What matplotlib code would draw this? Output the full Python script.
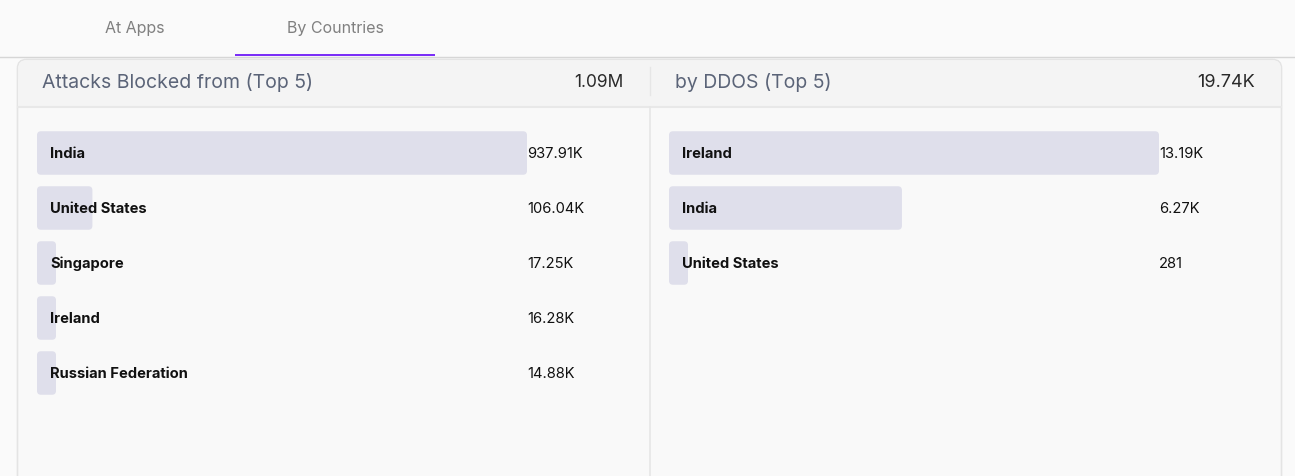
import matplotlib
matplotlib.use("Agg")
import matplotlib.pyplot as plt
from matplotlib.patches import FancyBboxPatch, Rectangle

plt.rcParams['font.family'] = ['Inter', 'DejaVu Sans']

# ---- data ----
tabs = ["At Apps", "By Countries"]
left_title = "Attacks Blocked from (Top 5)"
left_total = "1.09M"
left_countries = ["India", "United States", "Singapore", "Ireland", "Russian Federation"]
left_values = [937910, 106040, 17250, 16280, 14880]
left_labels = ["937.91K", "106.04K", "17.25K", "16.28K", "14.88K"]

right_title = "by DDOS (Top 5)"
right_total = "19.74K"
right_countries = ["Ireland", "India", "United States"]
right_values = [13190, 6270, 281]
right_labels = ["13.19K", "6.27K", "281"]

W, H = 1295, 477
fig = plt.figure(figsize=(W / 100, H / 100), dpi=100)
fig.patch.set_facecolor("#fafafa")

bg = fig.add_axes([0, 0, 1, 1])
bg.set_xlim(0, W)
bg.set_ylim(H, 0)
bg.axis("off")

# tab bar
bg.add_patch(Rectangle((0, 0), W, 57, facecolor="#fafafa", edgecolor="none"))
bg.plot([0, W], [57.5, 57.5], color="#d6d6d6", lw=1)
bg.add_patch(Rectangle((235, 54.5), 200, 2.5, facecolor="#7b2ff7", edgecolor="none", zorder=3))
bg.text(135, 28, tabs[0], ha="center", va="center", fontsize=11.5, color="#808080")
bg.text(335, 28, tabs[1], ha="center", va="center", fontsize=11.5, color="#808080")

# card
card = FancyBboxPatch((17.5, 60.5), 1264, 440, boxstyle="round,pad=0,rounding_size=9",
                      facecolor="#f9f9f9", edgecolor="#e4e4e4", lw=1.2)
bg.add_patch(card)
header = FancyBboxPatch((18.2, 61.2), 1262.6, 46, boxstyle="round,pad=0,rounding_size=8",
                        facecolor="#f4f4f4", edgecolor="none")
bg.add_patch(header)
bg.add_patch(Rectangle((18.2, 80), 1262.6, 27, facecolor="#f4f4f4", edgecolor="none"))
bg.plot([18, 1281], [107.5, 107.5], color="#e8e8e8", lw=1.5)
bg.plot([649.5, 649.5], [68, 96], color="#e6e6e6", lw=1)
bg.plot([649.5, 649.5], [108, H], color="#e6e6e6", lw=1.2)

bg.text(42, 82.5, left_title, ha="left", va="center", fontsize=14, color="#5b6478")
bg.text(623, 82.5, left_total, ha="right", va="center", fontsize=12.5, color="#2a2a2a")
bg.text(675, 82.5, right_title, ha="left", va="center", fontsize=14, color="#5b6478")
bg.text(1255, 82.5, right_total, ha="right", va="center", fontsize=13, color="#2a2a2a")

ROW = 55.0
TOP = 126.5
BAR_H = 43.5 / ROW
MIN_FRAC = 19.0 / 490


def bar_panel(x0, countries, values, labels):
    n_rows = 5
    ax = fig.add_axes([x0 / W, 1 - (TOP + ROW * n_rows) / H, 490 / W, ROW * n_rows / H])
    ax.set_facecolor("none")
    ax.axis("off")
    vmax = max(values)
    ax.set_xlim(0, vmax)
    ax.set_ylim(n_rows - 0.5, -0.5)
    widths = [max(v, MIN_FRAC * vmax) for v in values]
    bars = ax.barh(range(len(values)), widths, height=BAR_H, color="none")
    xu_per_px = vmax / 490
    yu_per_px = 1 / ROW
    for b in bars:
        r = FancyBboxPatch((b.get_x(), b.get_y()), b.get_width(), b.get_height(),
                           boxstyle=f"round,pad=0,rounding_size={4 * xu_per_px}",
                           mutation_aspect=yu_per_px / xu_per_px,
                           facecolor="#dfdfeb", edgecolor="none")
        ax.add_patch(r)
        b.set_visible(False)
    for i, (c, lab) in enumerate(zip(countries, labels)):
        ax.text(13 / 490, i, c, transform=ax.get_yaxis_transform(), ha="left", va="center",
                fontsize=10.6, fontweight="bold", color="#111111")
        ax.text(1.0, i, lab, transform=ax.get_yaxis_transform(), ha="left", va="center",
                fontsize=10.6, color="#111111")
    return ax


bar_panel(37, left_countries, left_values, left_labels)
bar_panel(669, right_countries, right_values, right_labels)

fig.savefig("out.png", dpi=100, facecolor=fig.get_facecolor())
